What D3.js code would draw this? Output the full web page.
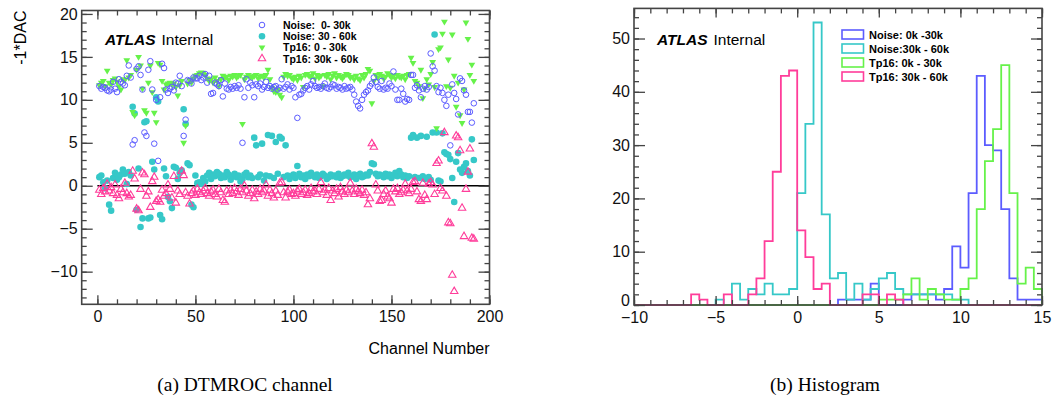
<!DOCTYPE html>
<html>
<head>
<meta charset="utf-8">
<script src="https://cdn.jsdelivr.net/npm/d3@7"></script>
<style>
  body { margin: 0; background: #fff; }
  svg { display: block; }
</style>
</head>
<body>
<svg id="fig" width="1054" height="400"></svg>
<script>
// ---- (a) DTMROC channel scan: -1*DAC per channel ----
const channels = d3.range(1, 193);

const noiseLow = [
  11.6,11.3,11.5,11.4,11.1,11.0,11.2,12.1,11.3,10.9,
  12.4,12.1,11.9,11.7,12.8,14.0,12.6,4.8,5.3,13.6,
  13.9,12.9,11.2,6.2,5.8,13.5,14.5,11.2,4.9,10.0,
  2.9,10.3,14.2,13.7,11.2,10.8,11.3,11.5,11.1,12.0,
  11.9,12.8,11.6,5.8,7.7,12.3,12.2,11.9,12.6,12.5,
  12.5,12.8,12.3,12.6,13.0,12.0,12.8,10.7,10.8,12.0,
  11.8,11.6,12.3,10.4,11.9,11.3,11.2,11.5,11.3,11.6,
  11.4,11.7,11.3,5.0,10.3,12.4,11.4,12.0,11.7,10.3,
  11.8,11.6,11.9,11.2,11.5,12.1,11.4,11.6,11.3,11.5,
  11.6,11.2,11.4,12.4,11.3,11.5,11.8,11.2,11.6,11.4,
  10.3,7.9,10.6,10.7,11.1,11.4,11.6,11.2,11.8,12.2,
  11.6,11.4,11.5,11.3,11.6,11.9,11.4,11.3,11.5,11.8,
  11.7,11.3,11.5,11.4,11.2,11.6,11.3,11.4,11.5,11.2,
  10.6,9.8,9.3,9.0,10.0,10.6,10.9,11.1,11.6,11.9,
  12.6,12.1,11.5,11.3,12.2,11.2,11.4,11.3,11.9,11.6,
  13.3,11.2,10.0,10.0,11.3,10.7,9.8,10.1,10.0,12.9,
  12.9,11.4,11.7,11.1,10.3,11.3,11.6,11.2,11.5,15.4,
  13.9,13.4,11.6,10.9,11.4,10.8,10.0,9.3,10.6,4.7,
  11.8,10.8,10.1,8.3,12.5,12.2,11.1,10.6,8.6,8.6,
  7.35,9.6
];

const noiseHigh = [
  1.0,1.2,0.4,-0.3,0.6,-2.2,-2.9,0.9,1.5,0.7,
  1.0,1.3,1.9,1.4,0.2,1.6,1.2,9.2,8.4,-2.8,
  2.0,-4.8,-3.8,7.4,7.5,-3.8,-3.7,2.8,1.9,10.3,
  9.8,-3.4,-3.9,2.0,1.1,-1.3,-1.8,-2.6,2.2,2.1,
  0.8,1.5,1.8,8.9,7.2,2.6,2.4,-2.2,-2.5,1.2,
  0.3,0.4,0.2,0.9,0.5,1.2,1.5,0.8,1.3,1.1,
  1.6,1.4,0.9,1.2,1.0,1.6,1.3,0.7,1.1,1.4,
  1.0,1.2,0.5,0.8,1.3,1.5,1.0,1.2,0.9,5.6,
  4.7,1.0,1.3,4.9,0.6,1.2,5.9,1.1,5.8,0.9,
  5.1,1.4,5.7,5.5,1.0,4.7,1.2,0.8,1.1,1.3,
  0.9,2.3,1.4,1.0,1.2,0.8,1.3,1.1,1.5,1.2,
  1.0,1.3,0.9,1.1,1.4,1.2,0.8,1.0,1.3,1.1,
  1.2,1.0,1.4,0.9,1.1,1.3,1.2,1.5,1.0,1.1,
  1.3,0.8,1.2,1.4,1.0,1.1,1.3,1.2,1.6,2.6,
  2.5,1.4,1.1,1.3,1.2,1.0,1.4,1.1,1.3,0.9,
  1.2,1.5,1.1,1.7,1.3,1.0,1.2,0.9,1.1,5.6,
  5.9,1.0,5.6,0.9,5.8,1.1,0.8,5.7,1.0,0.7,
  6.2,17.6,6.2,0.6,0.5,6.1,3.9,3.7,3.6,3.1,
  0.9,-1.9,2.8,3.8,1.9,1.5,2.2,2.6,1.7,1.2,
  5.4,3.0
];

const tp16Low = [
  11.7,12.0,12.2,11.6,13.4,12.0,11.8,12.3,12.5,12.1,
  11.6,11.2,12.4,12.3,14.6,12.6,12.9,8.6,8.2,13.5,
  15.0,14.0,11.3,8.8,8.5,12.0,14.0,10.9,8.5,7.4,
  14.3,14.1,12.2,11.2,11.8,11.9,12.0,11.8,11.9,11.5,
  10.5,11.7,12.2,5.0,7.0,11.9,12.3,12.0,12.5,12.8,
  12.9,13.1,13.2,13.1,12.9,12.5,12.2,12.4,12.0,12.6,
  12.2,11.6,12.4,12.8,12.6,12.7,12.3,12.8,12.7,12.9,
  12.6,12.8,12.9,7.2,12.4,12.7,12.9,12.7,12.6,12.8,
  12.9,12.5,12.7,12.8,12.6,12.9,13.5,12.4,11.4,11.0,
  10.9,11.2,10.6,10.3,12.7,13.0,12.8,12.9,12.6,12.4,
  12.7,12.3,12.8,12.6,11.5,12.9,13.0,12.8,12.7,13.1,
  12.5,12.9,12.6,12.8,11.6,12.9,12.7,13.0,12.4,12.8,
  13.1,12.6,12.9,12.7,12.5,12.8,13.0,12.9,12.6,12.7,
  12.4,12.8,12.5,12.3,12.9,12.6,13.0,13.6,13.4,9.6,
  12.2,12.9,12.6,13.0,12.8,12.5,12.7,13.1,12.9,12.6,
  12.8,12.5,12.9,12.7,12.6,12.8,12.4,12.9,13.0,14.9,
  14.3,12.2,12.0,11.6,13.5,10.2,11.3,12.4,11.8,13.0,
  14.4,11.5,6.7,15.9,16.1,17.7,19.1,11.6,14.7,11.4,
  17.6,12.8,9.2,12.0,8.2,7.3,11.2,19.0,17.1,12.9,
  14.1,12.2
];

const tp16High = [
  -0.5,-1.0,-0.3,-0.7,0.2,-0.6,-0.2,-0.9,0.1,-1.1,
  -1.5,-0.4,-0.8,0.3,-0.9,-1.3,-1.1,1.7,0.8,-2.7,
  -2.9,-0.4,1.5,1.3,-1.2,-0.7,-2.5,0.5,1.0,-1.8,
  -1.6,-1.9,-0.5,-1.2,-0.9,0.1,-0.4,-1.4,1.1,-2.0,
  -0.6,-1.0,1.7,1.2,-0.8,-1.2,-2.1,-0.9,-0.6,-1.1,
  -0.4,-0.8,-1.0,-0.6,-0.3,-0.9,-1.2,-0.7,-0.5,-1.0,
  -1.3,-0.4,-0.8,-1.7,-1.9,-0.6,-1.0,-0.5,-0.9,-0.3,
  -0.7,-1.1,-0.4,-0.8,0.0,-0.6,-1.2,-0.9,-0.5,-1.5,
  -0.7,-1.0,-0.4,-0.8,-0.6,0.1,-1.2,-0.5,-0.9,-1.4,
  -0.6,-1.1,0.3,0.4,-0.8,-1.4,-0.7,-0.5,-1.0,-0.9,
  -1.2,-0.6,-0.4,-1.0,-0.8,-0.5,-1.1,-0.9,-0.3,-0.7,
  -0.6,-1.0,-0.4,0.4,-0.8,-0.5,-1.1,-0.3,-1.7,-0.6,
  -0.9,-0.4,-1.3,-0.2,-0.7,-1.0,-0.5,-0.8,0.3,-0.6,
  -1.0,-0.4,-0.7,-0.9,-0.5,-1.1,-0.8,-2.2,-1.5,4.9,
  4.5,0.1,-0.6,-1.8,-1.7,-1.0,-0.6,-1.3,-1.5,-2.0,
  -0.4,-0.7,-0.3,-1.0,-0.8,-0.5,0.2,-0.6,-0.9,-0.4,
  0.4,0.5,-0.7,-1.6,-1.8,0.3,-1.1,-1.6,0.2,0.4,
  0.1,-1.0,2.6,2.9,-0.3,-0.6,6.2,-1.2,-4.3,-4.4,
  -10.4,-12.3,5.8,5.6,4.1,-2.6,-5.9,-0.4,1.6,4.3,
  -6.1,-6.2
];

// ---- (b) Histogram of the same values, 0.5 wide bins from -10 to 15 ----
const binLow = d3.range(-10, 15, 0.5);

const histNoiseLow = [
  0,0,0,0,0,0,0,0,0,0,
  0,0,0,0,0,0,0,0,0,0,
  0,0,0,0,0,1,1,1,1,4,
  0,0,0,1,2,2,2,1,3,11,
  7,21,43,30,29,18,5,1,1,1
];
const histNoiseHigh = [
  0,0,0,0,0,0,0,0,0,0,
  1,0,4,1,3,2,4,2,2,3,
  21,34,53,17,5,6,1,4,1,3,
  5,6,3,2,2,2,2,2,2,1,
  1,0,0,0,0,0,0,0,0,0
];
const histTp16Low = [
  0,0,0,0,0,0,0,0,0,0,
  0,0,0,0,0,0,0,0,0,0,
  0,0,0,0,0,0,0,0,0,0,
  1,1,1,2,5,1,3,2,1,1,
  3,5,18,27,33,45,21,4,7,3
];
const histTp16High = [
  0,0,0,0,0,0,0,2,1,0,
  0,2,0,0,2,5,12,25,43,44,
  14,9,3,4,0,0,0,0,2,2,
  0,2,1,0,0,0,0,0,0,0,
  0,0,0,0,0,0,0,0,0,0
];

const scatterLegend = ["Noise:  0- 30k", "Noise: 30 - 60k", "Tp16: 0 - 30k", "Tp16: 30k - 60k"];
const histLegend = ["Noise: 0k -30k", "Noise:30k - 60k", "Tp16: 0k - 30k", "Tp16: 30k - 60k"];

const colBlue = "#5c5cff", colCyan = "#36c8c8", colGreen = "#66f24a", colPink = "#ff3d9a";
const axisColor = "#444";
const sans = "'Liberation Sans', Arial, Helvetica, sans-serif";

const svg = d3.select("#fig");

// ================= left panel =================
const A = { left: 81.7, right: 489.5, top: 10.5, bottom: 304.3 };
const xA = d3.scaleLinear().domain([-8, 200]).range([A.left, A.right]);
const yA = d3.scaleLinear().domain([-13.8, 20.4]).range([A.bottom, A.top]);

function frameAxes(g, x, y, box, xMajor, xMinor, yMajor, yMinor, majorLen, minorLen) {
  const mk = (axis, tr, vals, len, labels) => {
    const a = g.append("g").attr("transform", tr)
      .call(axis.tickValues(vals).tickSize(-len).tickPadding(labels ? 5 : 0)
        .tickFormat(labels ? d3.format("") : () => ""));
    a.select(".domain").remove();
    a.selectAll(".tick line").attr("stroke", axisColor).attr("stroke-width", 1.3);
    a.selectAll("text").attr("fill", "#111").style("font-family", sans).style("font-size", "16px");
    return a;
  };
  mk(d3.axisBottom(x), `translate(0,${box.bottom})`, xMinor, minorLen, false);
  mk(d3.axisBottom(x), `translate(0,${box.bottom})`, xMajor, majorLen, true)
    .selectAll("text").attr("dy", "0.95em").attr("y", 3);
  mk(d3.axisTop(x), `translate(0,${box.top})`, xMinor, minorLen, false);
  mk(d3.axisTop(x), `translate(0,${box.top})`, xMajor, majorLen, false);
  mk(d3.axisLeft(y), `translate(${box.left},0)`, yMinor, minorLen, false);
  const yl = mk(d3.axisLeft(y), `translate(${box.left},0)`, yMajor, majorLen + 2, true);
  yl.selectAll("text").attr("x", -4);
  // the lowest label sits just above the corner so it clears the x labels
  yl.selectAll(".tick").filter((d) => d === y.domain()[0]).select("text").attr("dy", "0.05em");
  mk(d3.axisRight(y), `translate(${box.right},0)`, yMinor, minorLen, false);
  mk(d3.axisRight(y), `translate(${box.right},0)`, yMajor, majorLen + 2, false);
  g.append("rect").attr("x", box.left).attr("y", box.top)
    .attr("width", box.right - box.left).attr("height", box.bottom - box.top)
    .attr("fill", "none").attr("stroke", axisColor).attr("stroke-width", 1.6);
}

const gA = svg.append("g");
svg.append("clipPath").attr("id", "clipA").append("rect")
  .attr("x", A.left).attr("y", A.top).attr("width", A.right - A.left).attr("height", A.bottom - A.top);

// zero reference line
gA.append("line").attr("x1", xA(0)).attr("x2", xA(200)).attr("y1", yA(0)).attr("y2", yA(0))
  .attr("stroke", "#000").attr("stroke-width", 1.6);

const pts = gA.append("g").attr("clip-path", "url(#clipA)");
const triUp = d3.symbol(d3.symbolTriangle, 24);
const triDown = d3.symbol(d3.symbolTriangle, 20);

// Noise 30-60k : filled cyan circles
pts.append("g").selectAll("circle").data(channels).join("circle")
  .attr("cx", (c) => xA(c)).attr("cy", (c, i) => yA(noiseHigh[i])).attr("r", 3.3)
  .attr("fill", colCyan);
// Tp16 30-60k : open pink triangles
pts.append("g").selectAll("path").data(channels).join("path")
  .attr("d", triUp)
  .attr("transform", (c, i) => `translate(${xA(c)},${yA(tp16High[i])})`)
  .attr("fill", "none").attr("stroke", colPink).attr("stroke-width", 1.1);
// Tp16 0-30k : filled green down triangles
pts.append("g").selectAll("path").data(channels).join("path")
  .attr("d", triDown)
  .attr("transform", (c, i) => `translate(${xA(c)},${yA(tp16Low[i])}) rotate(180)`)
  .attr("fill", colGreen);
// Noise 0-30k : open blue circles
pts.append("g").selectAll("circle").data(channels).join("circle")
  .attr("cx", (c) => xA(c)).attr("cy", (c, i) => yA(noiseLow[i])).attr("r", 2.8)
  .attr("fill", "none").attr("stroke", colBlue).attr("stroke-width", 1);

frameAxes(gA, xA, yA, A,
  [0, 50, 100, 150, 200], d3.range(0, 201, 10),
  [-10, -5, 0, 5, 10, 15, 20], d3.range(-13, 21, 1), 9, 5);

svg.append("text").attr("transform", `translate(26,${A.top}) rotate(-90)`)
  .attr("text-anchor", "end").style("font-family", sans).style("font-size", "16px")
  .text("-1*DAC");
svg.append("text").attr("x", A.right).attr("y", 354).attr("text-anchor", "end")
  .style("font-family", sans).style("font-size", "16px").text("Channel Number");

function atlas(x, y) {
  const t = svg.append("text").attr("x", x).attr("y", y)
    .style("font-family", sans).style("font-size", "15.5px");
  t.append("tspan").style("font-weight", "bold").style("font-style", "italic").text("ATLAS");
  t.append("tspan").attr("dx", 6).text("Internal");
}
atlas(105, 45);

// scatter legend
const legA = svg.append("g").attr("transform", "translate(262,25)");
const legMarks = [
  (g) => g.append("circle").attr("r", 2.8).attr("fill", "none").attr("stroke", colBlue),
  (g) => g.append("circle").attr("r", 3.3).attr("fill", colCyan),
  (g) => g.append("path").attr("d", triDown).attr("transform", "rotate(180)").attr("fill", colGreen),
  (g) => g.append("path").attr("d", triUp).attr("fill", "none").attr("stroke", colPink).attr("stroke-width", 1.1)
];
scatterLegend.forEach((label, i) => {
  const row = legA.append("g").attr("transform", `translate(0,${i * 11.2})`);
  legMarks[i](row);
  row.append("text").attr("x", 21).attr("y", 4).style("white-space", "pre")
    .style("font-family", sans).style("font-weight", "bold").style("font-size", "10.5px")
    .text(label);
});

// ================= right panel =================
const B = { left: 634, right: 1042, top: 8.4, bottom: 305 };
const xB = d3.scaleLinear().domain([-10, 15]).range([B.left, B.right]);
const yB = d3.scaleLinear().domain([0, 55.65]).range([B.bottom, B.top]);
const gB = svg.append("g");

function stepPath(counts) {
  const p = d3.path();
  p.moveTo(xB(binLow[0]), yB(0));
  counts.forEach((n, i) => {
    p.lineTo(xB(binLow[i]), yB(n));
    p.lineTo(xB(binLow[i] + 0.5), yB(n));
  });
  p.lineTo(xB(binLow[binLow.length - 1] + 0.5), yB(0));
  return p.toString();
}
[[histNoiseLow, colBlue], [histNoiseHigh, colCyan], [histTp16Low, colGreen], [histTp16High, colPink]]
  .forEach(([counts, col]) => {
    gB.append("path").attr("d", stepPath(counts)).attr("fill", "none")
      .attr("stroke", col).attr("stroke-width", 1.8);
  });

frameAxes(gB, xB, yB, B,
  [-10, -5, 0, 5, 10, 15], d3.range(-10, 16, 1),
  [0, 10, 20, 30, 40, 50], d3.range(0, 56, 2), 9, 5);

atlas(657, 45);

const legB = svg.append("g").attr("transform", "translate(842,30)");
[colBlue, colCyan, colGreen, colPink].forEach((col, i) => {
  const row = legB.append("g").attr("transform", `translate(0,${i * 14})`);
  row.append("rect").attr("width", 21.5).attr("height", 9).attr("fill", "none")
    .attr("stroke", col).attr("stroke-width", 1.6);
  row.append("text").attr("x", 27).attr("y", 8.5)
    .style("font-family", sans).style("font-weight", "bold").style("font-size", "11px")
    .text(histLegend[i]);
});

// ================= captions =================
const serif = "'Liberation Serif', 'DejaVu Serif', serif";
svg.append("text").attr("x", 245).attr("y", 391).attr("text-anchor", "middle")
  .style("font-family", serif).style("font-size", "19.5px").text("(a) DTMROC channel");
svg.append("text").attr("x", 825).attr("y", 391).attr("text-anchor", "middle")
  .style("font-family", serif).style("font-size", "19.5px").text("(b) Histogram");
</script>
</body>
</html>
